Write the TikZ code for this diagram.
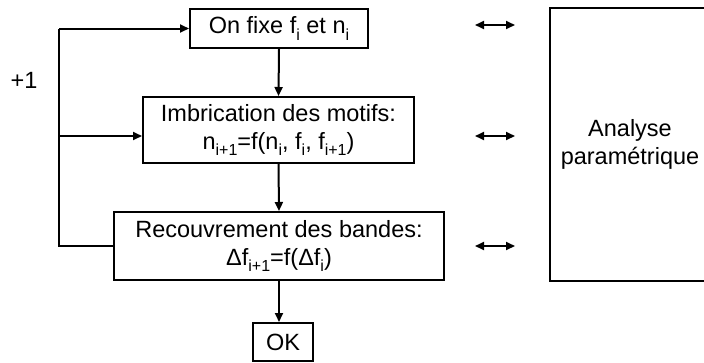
\documentclass[tikz,border=0pt]{standalone}
\usepackage{fontspec}
\setmainfont{Liberation Sans}
\usetikzlibrary{arrows.meta}
\newcommand{\sbs}[1]{\raisebox{-6.5pt}{\fontsize{16}{16}\selectfont #1}}
\begin{document}
\begin{tikzpicture}[x=1pt,y=-1pt,
  every node/.style={font=\fontsize{23.5}{28}\selectfont},
  box/.style={draw,line width=2pt,inner sep=0pt,align=center},
  conn/.style={line width=2pt,-{Triangle[length=9pt,width=8pt]}},
  dbl/.style={line width=2pt,{Triangle[length=9pt,width=8pt]}-{Triangle[length=9pt,width=8pt]}},
  plain/.style={line width=2pt}]
\path[use as bounding box] (0,0) rectangle (704,362);
\clip (0,0) rectangle (704,362);
\node[box,minimum width=178pt,minimum height=39pt] (b1) at (279,28.5) {On fixe f\sbs{i} et n\sbs{i}};
\node[box,minimum width=271pt,minimum height=66pt] (b2) at (278.5,130) {Imbrication des motifs:\\n\sbs{i+1}=f(n\sbs{i}, f\sbs{i}, f\sbs{i+1})};
\node[box,minimum width=330pt,minimum height=68pt] (b3) at (279,246) {Recouvrement des bandes:\\Δf\sbs{i+1}=f(Δf\sbs{i})};
\node[box,minimum width=60pt,minimum height=38pt] (ok) at (283,342) {OK};
\node[box,minimum width=160pt,minimum height=273pt] (an) at (630,144.5) {Analyse\\paramétrique};
\node (p1) at (24,80) {+1};
\coordinate (lt) at (59,28.5);
\coordinate (lm) at (59,136);
\coordinate (lb) at (59,246);
\draw[plain] (b3.west) -- (lb) -- (lt);
\draw[conn] (lt) -- (b1.west);
\draw[conn] (lm) -- (b2.west |- lm);
\draw[conn] (b1.south) -- (b2.north);
\draw[conn] (b2.south) -- (b3.north);
\draw[conn] (b3.south) -- (b3.south |- ok.north);
\coordinate (d1a) at (475,25);
\coordinate (d1b) at (515,25);
\coordinate (d2a) at (475,136);
\coordinate (d2b) at (515,136);
\coordinate (d3a) at (475,246);
\coordinate (d3b) at (515,246);
\draw[dbl] (d1a) -- (d1b);
\draw[dbl] (d2a) -- (d2b);
\draw[dbl] (d3a) -- (d3b);
\end{tikzpicture}
\end{document}
